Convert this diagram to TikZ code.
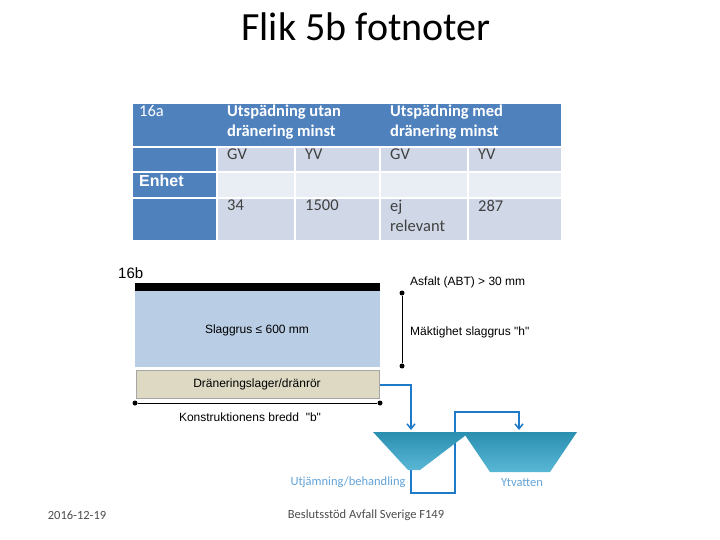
\documentclass[tikz,border=0pt]{standalone}
\usepackage{fontspec}
\setmainfont{Carlito}
\newfontfamily\arial{Liberation Sans}
\usetikzlibrary{arrows.meta}
\begin{document}
\begin{tikzpicture}[x=1pt,y=-1pt,
  dk/.style={fill=dkc,draw=white,line width=1.2pt},
  lt/.style={fill=ltc,draw=white,line width=1.2pt},
  lt2/.style={fill=lt2c,draw=white,line width=1.2pt},
  wt/.style={text=white,font=\fontsize{16.5}{20}\selectfont\bfseries,anchor=north west,align=left,inner sep=0},
  ct/.style={text=black!75,font=\fontsize{16.5}{20}\selectfont,anchor=north west,align=left,inner sep=0},
  ar/.style={font=\arial\fontsize{12}{14}\selectfont,inner sep=0},
  pipe/.style={draw=pipec,line width=1.5pt},
  dot/.style={circle,fill=black,inner sep=0,minimum size=5pt}]
\definecolor{dkc}{HTML}{4F81BD}\definecolor{ltc}{HTML}{D0D8E8}\definecolor{lt2c}{HTML}{E9EDF4}
\definecolor{pipec}{HTML}{1F7BC8}\definecolor{basin}{HTML}{31A5CC}\definecolor{basintop}{HTML}{2A8FB0}
\useasboundingbox (0,0) rectangle (720,540);
\node[font=\fontsize{40}{44}\selectfont] (title) at (366,27) {Flik 5b fotnoter};
% table
\path[dk] (132,103) rectangle (562,147);
\path[dk] (132,147) rectangle (217,172);\path[dk] (132,172) rectangle (217,198);\path[dk] (132,198) rectangle (217,241);
\path[lt] (217,147) rectangle (295,172); \path[lt] (295,147) rectangle (380,172);
\path[lt] (380,147) rectangle (468,172); \path[lt] (468,147) rectangle (562,172);
\path[lt2] (217,172) rectangle (295,198); \path[lt2] (295,172) rectangle (380,198);
\path[lt2] (380,172) rectangle (468,198); \path[lt2] (468,172) rectangle (562,198);
\path[lt] (217,198) rectangle (295,241); \path[lt] (295,198) rectangle (380,241);
\path[lt] (380,198) rectangle (468,241); \path[lt] (468,198) rectangle (562,241);
\node[wt,font=\fontsize{16.5}{20}\selectfont] (c16a) at (139,105) {16a};
\node[wt] (h1) at (227,105) {Utspädning utan\\dränering minst};
\node[wt] (h2) at (390,105) {Utspädning med\\dränering minst};
\node[ct] (gv1) at (227,149) {GV}; \node[ct] (yv1) at (305,149) {YV};
\node[ct] (gv2) at (390,149) {GV}; \node[ct] (yv2) at (478,149) {YV};
\node[wt,font=\arial\fontsize{16}{18}\selectfont\bfseries] (enhet) at (139,175) {Enhet};
\node[ct] (v1) at (227,200) {34}; \node[ct] (v2) at (305,200) {1500};
\node[ct] (v3) at (390,200) {ej\\relevant}; \node[ct] (v4) at (478,200) {287};
% 16b
\node[font=\arial\fontsize{15}{17}\selectfont,anchor=west,inner sep=0] (c16b) at (118,273) {16b};
\fill[black] (135,283) rectangle (380,291);
\definecolor{slag}{HTML}{B9CDE5}\fill[slag] (135,291) rectangle (380,367);
\node[ar] (slaggrus) at (257,330) {Slaggrus ≤ 600 mm};
\definecolor{tan}{HTML}{DDD9C3}
\draw[fill=tan,draw=black!35,line width=1pt] (136,370) rectangle (379,398);
\node[ar] (dran) at (257,384) {Dräneringslager/dränrör};
\node[dot] (b1) at (135,403) {}; \node[dot] (b2) at (380,403) {};
\draw[line width=0.8pt] (b1) -- (b2);
\node[ar] (bredd) at (250,417) {Konstruktionens bredd \ "b"};
\node[dot] (h1d) at (402,293) {}; \node[dot] (h2d) at (402,366) {};
\draw[line width=0.8pt] (h1d) -- (h2d);
\node[ar,anchor=west] (asf) at (410,282) {Asfalt (ABT) > 30 mm};
\node[ar,anchor=west] (mak) at (410,332) {Mäktighet slaggrus "h"};
% basins
\coordinate (p3) at (411,466); \coordinate (p4) at (519,430);
\draw[pipe,-{Straight Barb[length=5pt,width=8pt]}] (p3) -- (411,493) -- (455,493) -- (455,412) -- (519,412) -- (p4);
\shade[top color=basintop,bottom color=basin!80] (373,432) -- (470,432) -- (420,470) -- (408,470) -- cycle;
\shade[top color=basintop,bottom color=basin!80] (463,432) -- (577,432) -- (550,472) -- (490,472) -- cycle;
\coordinate (p1) at (380,385); \coordinate (p2) at (411,430);
\draw[pipe,-{Straight Barb[length=5pt,width=8pt]}] (p1) -- (411,385) -- (p2);
\node[font=\fontsize{12.5}{14}\selectfont,text=pipec!70] (utj) at (348,482) {Utjämning/behandling};
\node[font=\fontsize{12.5}{14}\selectfont,text=pipec!70] (yt) at (522,483) {Ytvatten};
\node[font=\fontsize{12.5}{14}\selectfont,text=black!70] (date) at (77,515) {2016-12-19};
\node[font=\fontsize{12.5}{14}\selectfont,text=black!70] (foot) at (366,515) {Beslutsstöd Avfall Sverige F149};
\end{tikzpicture}
\end{document}
